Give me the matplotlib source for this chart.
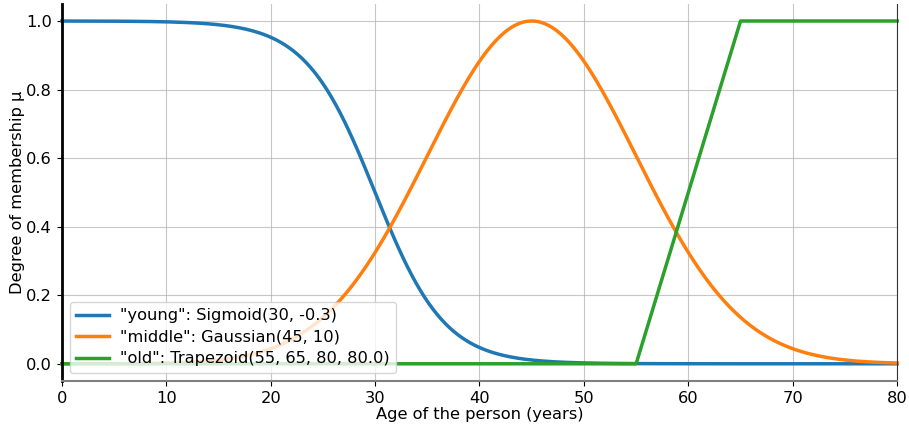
import numpy as np
import matplotlib
matplotlib.use("Agg")
import matplotlib.pyplot as plt

# Membership function parameters (as stated in legend)
young_params = (30, -0.3)       # sigmoid center, slope
middle_params = (45, 10)        # gaussian mean, sigma
old_params = (55, 65, 80, 80.0)  # trapezoid a, b, c, d
labels = ['"young": Sigmoid(30, -0.3)', '"middle": Gaussian(45, 10)',
          '"old": Trapezoid(55, 65, 80, 80.0)']
colors = ['#1f77b4', '#ff7f0e', '#2ca02c']

x = np.linspace(0, 80, 801)
c, s = young_params
young = 1 / (1 + np.exp(-s * (x - c)))
m, sd = middle_params
middle = np.exp(-((x - m) ** 2) / (2 * sd ** 2))
a, b, cc, d = old_params
old = np.clip(np.minimum((x - a) / (b - a), 1.0), 0, 1)

fs = 11.7
fig = plt.figure(figsize=(9.09, 4.28), dpi=100)
ax = fig.add_axes([0.068, 0.110, 0.919, 0.881])
for y, lab, col in zip([young, middle, old], labels, colors):
    ax.plot(x, y, color=col, lw=2.5, label=lab, clip_on=False)

ax.set_xlim(0, 80)
ax.set_ylim(-0.05, 1.05)
ax.set_xticks(np.arange(0, 81, 10))
ax.set_yticks(np.arange(0, 1.01, 0.2))
ax.set_yticklabels([f"{v:.1f}" for v in np.arange(0, 1.01, 0.2)])
ax.grid(True, color='#b0b0b0', lw=0.8, alpha=0.7)
ax.set_axisbelow(True)
ax.tick_params(labelsize=fs)
ax.set_xlabel("Age of the person (years)", fontsize=fs, labelpad=1)
ax.set_ylabel("Degree of membership μ", fontsize=fs, labelpad=1)
ax.spines['top'].set_visible(False)
ax.spines['left'].set_linewidth(2)
ax.spines['left'].set_color('black')
ax.spines['bottom'].set_color('#808080')
ax.spines['bottom'].set_linewidth(1.5)
ax.spines['right'].set_color('#333333')
ax.legend(loc='lower left', fontsize=fs, framealpha=0.8, borderaxespad=0.5,
          labelspacing=0.4, handletextpad=0.7)
fig.savefig("out.png", dpi=100)
